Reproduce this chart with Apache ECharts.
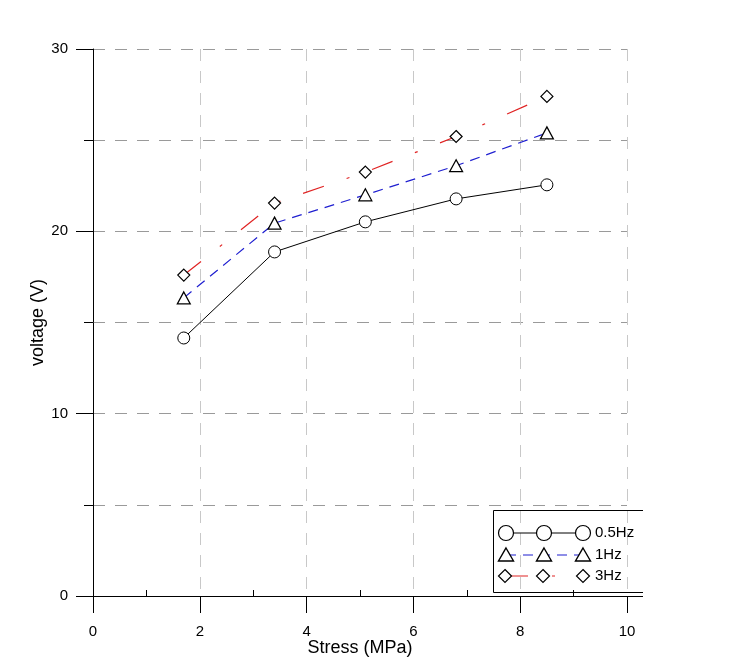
<!DOCTYPE html>
<html>
<head>
<meta charset="utf-8">
<script src="https://cdn.jsdelivr.net/npm/echarts@6/dist/echarts.min.js"></script>
<style>html,body{margin:0;padding:0;background:#fff}#c{width:744px;height:666px}</style>
</head>
<body>
<div id="c"></div>
<script>
var stress = [1.7, 3.4, 5.1, 6.8, 8.5];
var v05Hz = [14.15, 18.87, 20.52, 21.78, 22.55];
var v1Hz = [16.35, 20.45, 22.0, 23.6, 25.4];
var v3Hz = [17.6, 21.55, 23.25, 25.2, 27.4];
var seriesNames = ['0.5Hz', '1Hz', '3Hz'];

function pairs(ys) { return stress.map(function (x, i) { return [x, ys[i]]; }); }

var FONT = 'Liberation Sans, Arial, sans-serif';
var chart = echarts.init(document.getElementById('c'));

var gridDash = [12, 10];
var option = {
  animation: false,
  backgroundColor: '#fff',
  grid: { left: 93, right: 117, top: 49, bottom: 70, containLabel: false, outerBoundsMode: 'none' },
  xAxis: {
    type: 'value', min: 0, max: 10, interval: 2,
    name: 'Stress (MPa)', nameLocation: 'middle', nameGap: 43, nameMoveOverlap: false,
    nameTextStyle: { fontFamily: FONT, fontSize: 18, color: '#000' },
    axisLine: { lineStyle: { color: '#000', width: 1 } },
    axisTick: { show: true, length: 17, lineStyle: { color: '#000' } },
    minorTick: { show: true, splitNumber: 2, length: -6, lineStyle: { color: '#000' } },
    axisLabel: { fontFamily: FONT, fontSize: 15, color: '#000', margin: 28 },
    splitLine: { show: true, lineStyle: { color: '#c8c8c8', type: gridDash, width: 1 } }
  },
  yAxis: {
    type: 'value', min: 0, max: 30, interval: 10,
    name: 'voltage (V)', nameLocation: 'middle', nameGap: 46, nameMoveOverlap: false,
    nameTextStyle: { fontFamily: FONT, fontSize: 18, color: '#000' },
    axisLine: { show: true, lineStyle: { color: '#000', width: 1 } },
    axisTick: { show: true, length: 17, lineStyle: { color: '#000' } },
    minorTick: { show: true, splitNumber: 2, length: 9, lineStyle: { color: '#000' } },
    axisLabel: { fontFamily: FONT, fontSize: 15, color: '#000', margin: 25 },
    splitLine: { show: true, lineStyle: { color: '#9a9a9a', type: gridDash, width: 1 } },
    minorSplitLine: { show: true, lineStyle: { color: '#9a9a9a', type: gridDash, width: 1 } }
  },
  series: [
    {
      name: seriesNames[0], type: 'line', data: pairs(v05Hz),
      symbol: 'circle', symbolSize: 12,
      itemStyle: { color: '#fff', borderColor: '#000', borderWidth: 1 },
      lineStyle: { color: '#000', width: 1, type: 'solid' }, z: 3
    },
    {
      name: seriesNames[1], type: 'line', data: pairs(v1Hz),
      symbol: 'triangle', symbolSize: [13, 12],
      itemStyle: { color: '#fff', borderColor: '#000', borderWidth: 1.2 },
      lineStyle: { color: '#1f1fd0', width: 1.2, type: [10, 7] }, z: 3
    },
    {
      name: seriesNames[2], type: 'line', data: pairs(v3Hz),
      symbol: 'diamond', symbolSize: 12,
      itemStyle: { color: '#fff', borderColor: '#000', borderWidth: 1.2 },
      lineStyle: { color: '#e02424', width: 1.2, type: [22, 24, 3, 24] }, z: 3
    }
  ],
  graphic: [
    { type: 'line', shape: { x1: 627, y1: 596.5, x2: 643, y2: 596.5 }, style: { stroke: '#000', lineWidth: 1 }, z: 10 },
    { type: 'polyline', shape: { points: [[643, 510.5], [493.5, 510.5], [493.5, 592.5], [643, 592.5]] }, style: { stroke: '#000', lineWidth: 1, fill: null }, z: 10 },
    { type: 'line', shape: { x1: 506, y1: 533, x2: 583, y2: 533 }, style: { stroke: '#000', lineWidth: 1 }, z: 10 },
    { type: 'circle', shape: { cx: 506, cy: 533, r: 7.5 }, style: { stroke: '#000', fill: '#fff', lineWidth: 1.2 }, z: 11 },
    { type: 'circle', shape: { cx: 544, cy: 533, r: 7.5 }, style: { stroke: '#000', fill: '#fff', lineWidth: 1.2 }, z: 11 },
    { type: 'circle', shape: { cx: 583, cy: 533, r: 7.5 }, style: { stroke: '#000', fill: '#fff', lineWidth: 1.2 }, z: 11 },
    { type: 'text', style: { x: 595, y: 533, text: seriesNames[0], fontFamily: FONT, fontSize: 15, fill: '#000', verticalAlign: 'middle' }, z: 11 },
    { type: 'line', shape: { x1: 506, y1: 555, x2: 583, y2: 555 }, style: { stroke: '#1f1fd0', lineWidth: 1.2, lineDash: [10, 7] }, z: 10 },
    { type: 'polygon', shape: { points: [[506, 548], [513.5, 561], [498.5, 561]] }, style: { stroke: '#000', fill: '#fff', lineWidth: 1.4 }, z: 11 },
    { type: 'polygon', shape: { points: [[544, 548], [551.5, 561], [536.5, 561]] }, style: { stroke: '#000', fill: '#fff', lineWidth: 1.4 }, z: 11 },
    { type: 'polygon', shape: { points: [[583, 548], [590.5, 561], [575.5, 561]] }, style: { stroke: '#000', fill: '#fff', lineWidth: 1.4 }, z: 11 },
    { type: 'text', style: { x: 595, y: 555, text: seriesNames[1], fontFamily: FONT, fontSize: 15, fill: '#000', verticalAlign: 'middle' }, z: 11 },
    { type: 'line', shape: { x1: 506, y1: 576, x2: 583, y2: 576 }, style: { stroke: '#e02424', lineWidth: 1.2, lineDash: [22, 24, 3, 24] }, z: 10 },
    { type: 'polygon', shape: { points: [[505, 569.5], [511.5, 576], [505, 582.5], [498.5, 576]] }, style: { stroke: '#000', fill: '#fff', lineWidth: 1.2 }, z: 11 },
    { type: 'polygon', shape: { points: [[543, 569.5], [549.5, 576], [543, 582.5], [536.5, 576]] }, style: { stroke: '#000', fill: '#fff', lineWidth: 1.2 }, z: 11 },
    { type: 'polygon', shape: { points: [[583, 569.5], [589.5, 576], [583, 582.5], [576.5, 576]] }, style: { stroke: '#000', fill: '#fff', lineWidth: 1.2 }, z: 11 },
    { type: 'text', style: { x: 595, y: 576, text: seriesNames[2], fontFamily: FONT, fontSize: 15, fill: '#000', verticalAlign: 'middle' }, z: 11 }
  ]
};
chart.setOption(option);
</script>
</body>
</html>
